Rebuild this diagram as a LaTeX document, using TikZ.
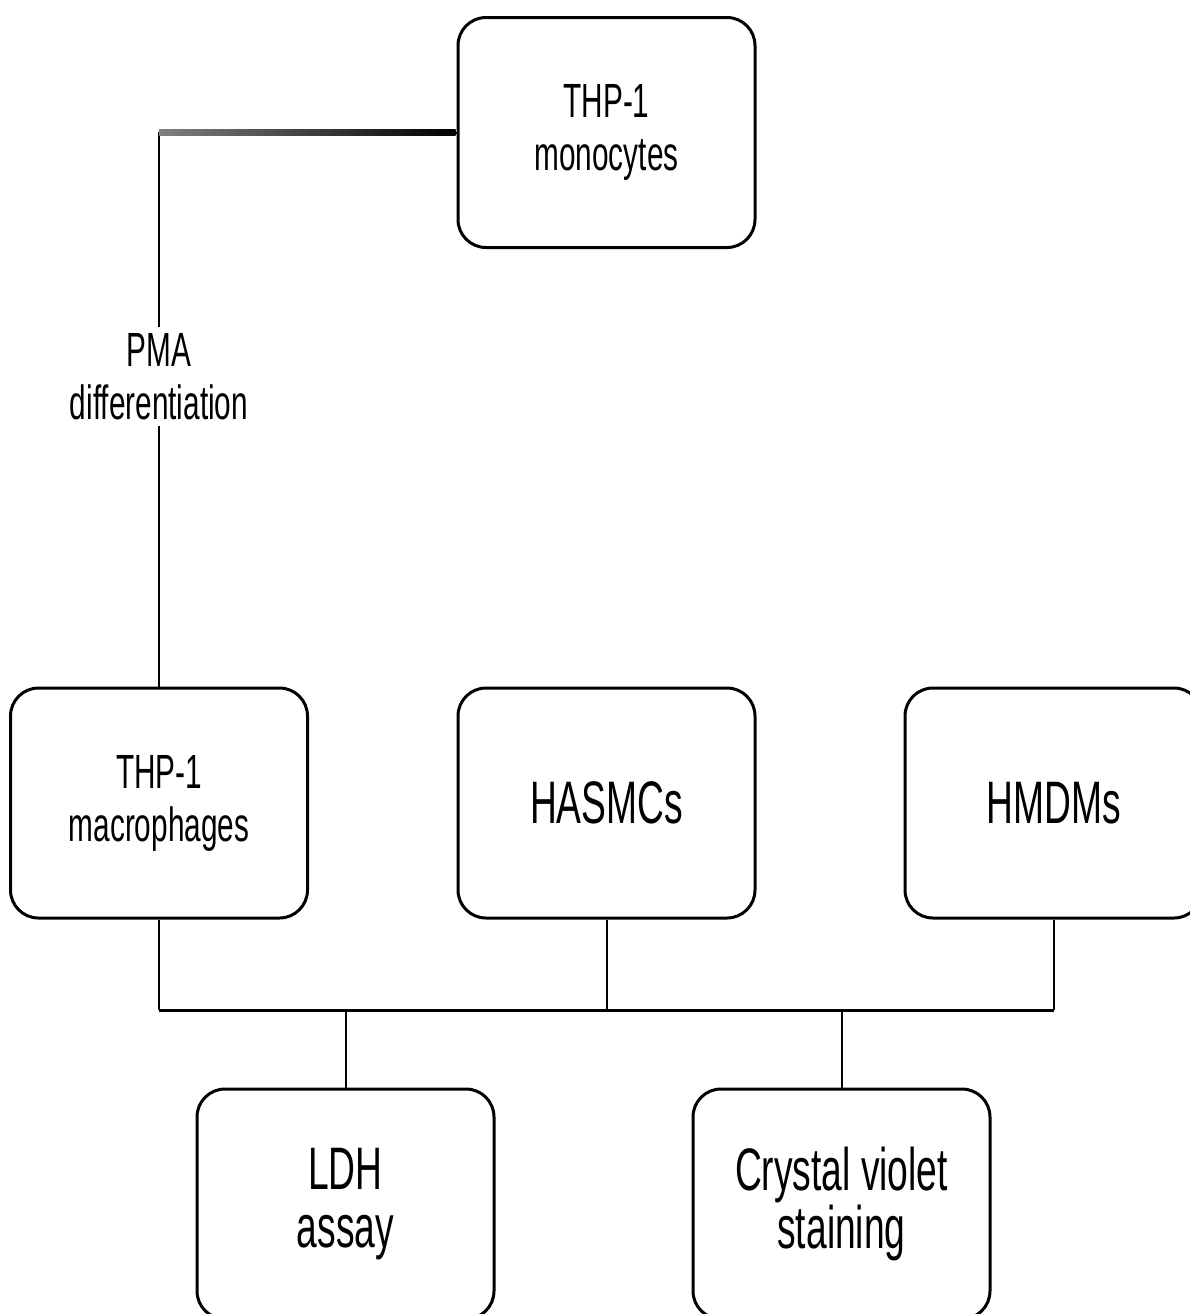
\documentclass[tikz,border=0pt]{standalone}
\usepackage{fontspec}
\newfontfamily\narrowfont[FakeStretch=0.62]{Liberation Sans}
\usetikzlibrary{calc}
\begin{document}
\begin{tikzpicture}[x=0.5pt,y=-0.5pt,
  box/.style={draw=black, line width=1.5pt, rounded corners=14pt, fill=white,
    minimum width=148.5pt, minimum height=115pt, align=center, inner sep=0pt,
    font=\narrowfont\fontsize{24}{26.5}\selectfont},
  bigtext/.style={font=\narrowfont\fontsize{30}{29}\selectfont},
  conn/.style={draw=black, line width=1pt},
  lbl/.style={fill=white, align=center, inner sep=3pt,
    font=\narrowfont\fontsize{24}{26.5}\selectfont}]
\clip (0,0) rectangle (1190,1314);
\fill[white] (0,0) rectangle (1190,1314);

\node[box] (mono) at (606.5,132.5) {THP-1\\monocytes};
\node[box] (mac) at (159,803) {THP-1\\macrophages};
\node[box,bigtext] (hasmc) at (606.5,803) {HASMCs};
\node[box,bigtext] (hmdm) at (1053.5,803) {HMDMs};
\node[box,bigtext] (ldh) at (345.5,1204) {LDH\\assay};
\node[box,font=\narrowfont\fontsize{30}{23}\selectfont] (cv) at (841.5,1204) {Crystal violet\\staining};

\coordinate (bus) at (0,1010);

\draw[conn] (mono.west) -| node[lbl, pos=0.72] (pma) {PMA\\differentiation} (mac.north);
\shade[left color=gray, right color=black]
  ($(mono.west -| mac.north)+(0,-3)$) rectangle ($(mono.west)+(-1,3)$);

\draw[conn] (mac.south) -- (mac.south |- bus);
\draw[conn] (hasmc.south) -- (hasmc.south |- bus);
\draw[conn] (hmdm.south) -- (hmdm.south |- bus);
\draw[draw=black, line width=1.5pt] (mac.south |- bus) -- (hmdm.south |- bus);
\draw[conn] (ldh.north) -- (ldh.north |- bus);
\draw[conn] (cv.north) -- (cv.north |- bus);
\end{tikzpicture}
\end{document}
